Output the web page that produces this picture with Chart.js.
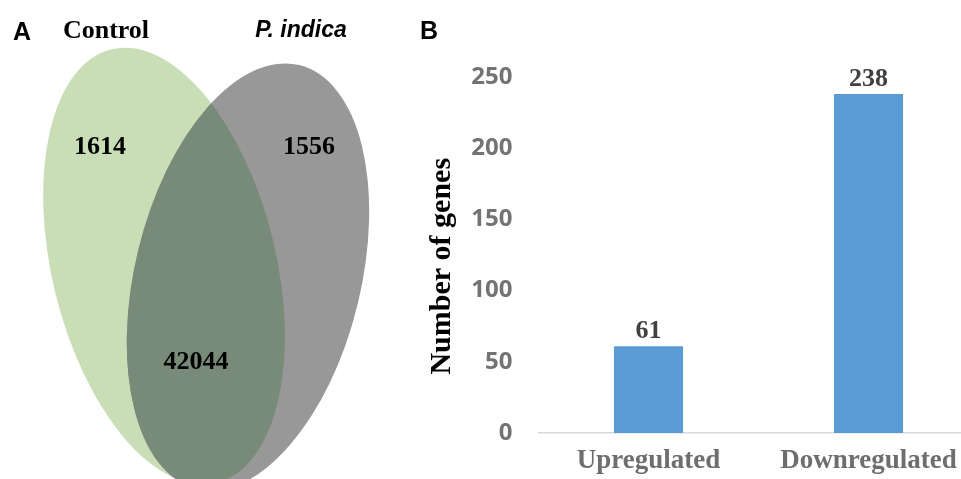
<!DOCTYPE html>
<html>
<head>
<meta charset="utf-8">
<script src="https://cdn.jsdelivr.net/npm/chart.js@4.4.0/dist/chart.umd.min.js"></script>
<style>
  html, body { margin: 0; padding: 0; background: #fff; overflow: hidden; width: 961px; height: 479px; }
  #venn { position: absolute; left: 0; top: 0; }
  #bars { position: absolute; left: 400px; top: 0; }
</style>
</head>
<body>
<canvas id="venn" width="400" height="479"></canvas>
<canvas id="bars" width="600" height="479"></canvas>
<script>
// panel A - venn counts
var vennSets = ['Control', 'P. indica'];
var vennCounts = [1614, 42044, 1556]; // control only, shared, P. indica only

// panel B - DEGs
var categories = ['Upregulated', 'Downregulated'];
var geneCounts = [61, 238];
var yTicks = [0, 50, 100, 150, 200, 250];

// venn layout (canvas units)
var vennShapes = [
  { cx: 164, cy: 266, rx: 112, ry: 223, rot: -13.6, color: '#c9ddb7' },
  { cx: 248, cy: 277, rx: 113, ry: 218, rot: 13.6, color: '#989898' }
];
var overlapColor = '#788a78';
var countSpots = [[100, 147], [196, 362], [309, 147]];

var serif = '"Liberation Serif", "Times New Roman", serif';
var sans = '"Liberation Sans", Arial, sans-serif';

var vennPlugin = {
  id: 'venn',
  beforeDatasetsDraw: function(chart) {
    var ctx = chart.ctx, xs = chart.scales.x, ys = chart.scales.y;
    function path(s) {
      var cx = xs.getPixelForValue(s.cx), cy = ys.getPixelForValue(s.cy);
      var rx = Math.abs(xs.getPixelForValue(s.cx + s.rx) - cx);
      var ry = Math.abs(ys.getPixelForValue(s.cy + s.ry) - cy);
      ctx.beginPath();
      ctx.ellipse(cx, cy, rx, ry, s.rot * Math.PI / 180, 0, Math.PI * 2);
    }
    ctx.save();
    vennShapes.forEach(function(s) {
      path(s);
      ctx.fillStyle = s.color;
      ctx.fill();
    });
    path(vennShapes[0]);
    ctx.clip();
    path(vennShapes[1]);
    ctx.fillStyle = overlapColor;
    ctx.fill();
    ctx.restore();
  },
  afterDatasetsDraw: function(chart) {
    var ctx = chart.ctx;
    var meta = chart.getDatasetMeta(0);
    ctx.save();
    ctx.fillStyle = '#000';
    ctx.textAlign = 'center';
    ctx.textBaseline = 'middle';
    ctx.font = 'bold 26px ' + serif;
    meta.data.forEach(function(pt, i) {
      ctx.fillText(String(vennCounts[i]), pt.x, pt.y);
    });
    ctx.textBaseline = 'alphabetic';
    ctx.fillText(vennSets[0], 106, 38);
    ctx.font = 'italic bold 23px ' + sans;
    ctx.fillText(vennSets[1], 301, 37);
    ctx.textAlign = 'left';
    ctx.font = 'bold 25px ' + sans;
    ctx.fillText('A', 13, 40);
    ctx.restore();
  }
};

new Chart(document.getElementById('venn'), {
  type: 'scatter',
  data: {
    datasets: [{
      data: vennCounts.map(function(c, i) { return { x: countSpots[i][0], y: countSpots[i][1] }; }),
      pointRadius: 0
    }]
  },
  options: {
    responsive: false,
    animation: false,
    events: [],
    layout: { padding: 0 },
    plugins: { legend: { display: false }, tooltip: { enabled: false } },
    scales: {
      x: { type: 'linear', min: 0, max: 400, display: false },
      y: { type: 'linear', min: 0, max: 479, reverse: true, display: false }
    }
  },
  plugins: [vennPlugin]
});

var barLabels = {
  id: 'barLabels',
  afterDatasetsDraw: function(chart) {
    var ctx = chart.ctx;
    var meta = chart.getDatasetMeta(0);
    ctx.save();
    ctx.font = 'bold 26px ' + serif;
    ctx.fillStyle = '#404040';
    ctx.textAlign = 'center';
    ctx.textBaseline = 'alphabetic';
    meta.data.forEach(function(bar, i) {
      ctx.fillText(String(geneCounts[i]), bar.x, bar.y - 8);
    });
    ctx.fillStyle = '#000';
    ctx.textAlign = 'left';
    ctx.font = 'bold 25px ' + sans;
    ctx.fillText('B', 20, 39);
    ctx.restore();
  }
};

new Chart(document.getElementById('bars'), {
  type: 'bar',
  data: {
    labels: categories,
    datasets: [{
      data: geneCounts,
      backgroundColor: '#5b9bd5',
      barPercentage: 0.314,
      categoryPercentage: 1
    }]
  },
  options: {
    responsive: false,
    animation: false,
    events: [],
    layout: { padding: { top: 77, right: 21.5, left: 0, bottom: 0 } },
    plugins: { legend: { display: false }, tooltip: { enabled: false } },
    scales: {
      x: {
        grid: { display: false, drawTicks: false, tickLength: 0 },
        border: { display: true, color: '#d9d9d9', width: 1.5 },
        ticks: {
          color: '#6e6e6e',
          font: { family: serif, size: 27, weight: 'bold' },
          padding: 12,
          maxRotation: 0,
          autoSkip: false
        },
        afterFit: function(s) { s.height = 46; }
      },
      y: {
        min: 0,
        max: 250,
        grid: { display: false, drawTicks: false, tickLength: 0 },
        border: { display: false },
        afterBuildTicks: function(s) {
          s.ticks = yTicks.map(function(v) { return { value: v }; });
        },
        ticks: {
          color: '#737373',
          font: { family: '"Open Sans", sans-serif', size: 24, weight: 'bold' },
          padding: 26
        },
        title: {
          display: true,
          text: 'Number of genes   ',
          color: '#000',
          font: { family: serif, size: 30, weight: 'bold' },
          padding: { top: 24, bottom: 0 }
        },
        afterFit: function(s) { s.width = 138.5; }
      }
    }
  },
  plugins: [barLabels]
});
</script>
</body>
</html>
